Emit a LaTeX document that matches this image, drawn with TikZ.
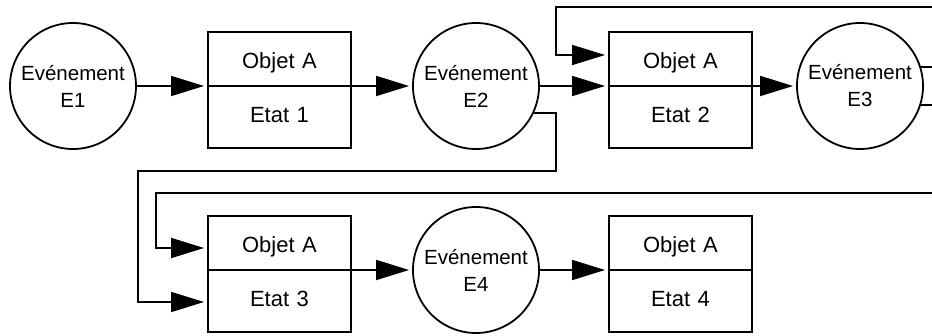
\documentclass[tikz,border=0pt]{standalone}
\usepackage{fontspec}
\setmainfont{Liberation Sans}
\usetikzlibrary{arrows.meta, shapes.multipart, positioning, calc}
\newcommand{\topstrut}{\rule[-17pt]{0pt}{52pt}}
\newcommand{\botstrut}{\rule[-24pt]{0pt}{60pt}}
\tikzset{event/.style={circle, draw, line width=1.8pt, minimum size=126pt,
        inner sep=0pt, align=center, font=\fontsize{20.5}{27}\selectfont},
    statebox/.style={rectangle split, rectangle split parts=2, draw,
        line width=1.8pt, inner sep=0pt, text width=143pt, align=center,
        font=\fontsize{22}{25}\selectfont, anchor=text split west},
    flow/.style={line width=1.8pt, -{Triangle[length=33pt,width=20pt]}, shorten >=3pt},
    link/.style={line width=1.8pt}}

\begin{document}
\begin{tikzpicture}[x=1pt, y=-1pt]
    \useasboundingbox (0,0) rectangle (932,335);
    \coordinate (edge) at (932,0);

    % Events
    \node[event] (E1) at (73,86)  {Evénement\\E1};
    \node[event] (E2) at (476,86) {Evénement\\E2};
    \node[event] (E3) at (860,86) {Evénement\\E3};
    \node[event] (E4) at (476,270) {Evénement\\E4};

    % States of object A
    \node[statebox] (b1) at (207,86)  {\topstrut Objet A \nodepart{two}\botstrut Etat 1};
    \node[statebox] (b2) at (608,86)  {\topstrut Objet A \nodepart{two}\botstrut Etat 2};
    \node[statebox] (b3) at (207,270) {\topstrut Objet A \nodepart{two}\botstrut Etat 3};
    \node[statebox] (b4) at (608,270) {\topstrut Objet A \nodepart{two}\botstrut Etat 4};

    % Main flow
    \draw[flow] (E1) -- (b1.text split west);
    \draw[flow] (b1.text split east) -- (E2);
    \draw[flow] (E2) -- (b2.text split west);
    \draw[flow] (b2.text split east) -- (E3);
    \draw[flow] (b3.text split east) -- (E4);
    \draw[flow] (E4) -- (b4.text split west);

    % Return paths
    \coordinate (t1) at (556,7);
    \draw[flow] (t1 -| edge) -- (t1) |- ($(b2.text split west)+(0,-31)$);
    \coordinate (k1) at (556,171);
    \coordinate (k2) at (138,171);
    \draw[flow] (E2.-25) -| (k1) -- (k2) |- ($(b3.text split west)+(0,32)$);
    \coordinate (t2) at (156,193);
    \draw[flow] (t2 -| edge) -- (t2) |- ($(b3.text split west)+(0,-22)$);

    % Outgoing from E3
    \draw[link] (E3.17) -- (E3.17 -| edge);
    \draw[link] (E3.-17) -- (E3.-17 -| edge);
\end{tikzpicture}
\end{document}
